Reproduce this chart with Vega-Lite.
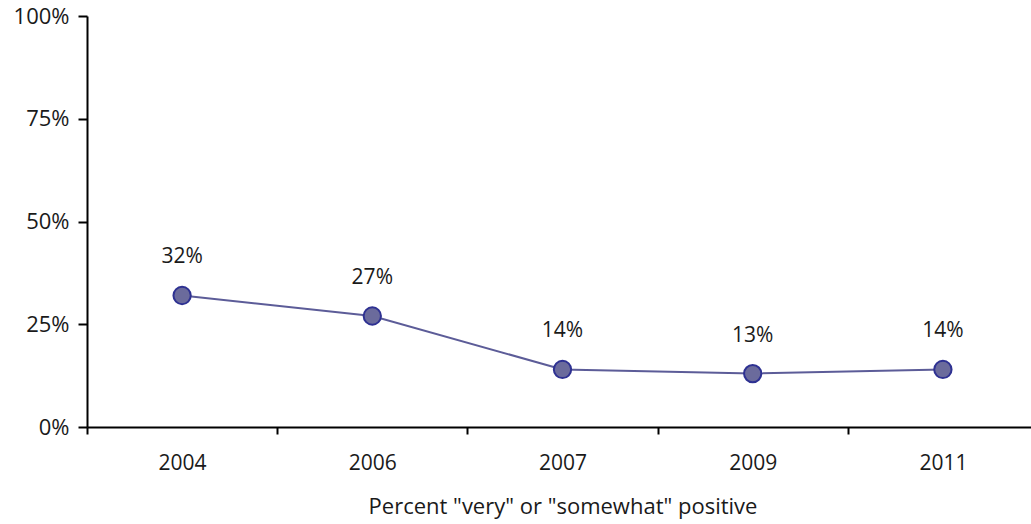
{
  "$schema": "https://vega.github.io/schema/vega-lite/v6.json",
  "autosize": "none",
  "width": 951,
  "height": 411,
  "padding": {"left": 87, "top": 16, "right": 0, "bottom": 97},
  "background": "white",
  "config": {
    "view": {"stroke": null},
    "font": "Open Sans",
    "axis": {"domainColor": "#000000", "domainWidth": 2, "tickColor": "#000000", "tickWidth": 2, "labelColor": "#1a1a1a", "labelFont": "Open Sans", "labelFontSize": 21, "labelFontWeight": 400, "grid": false, "titleFont": "Open Sans", "titleFontWeight": 400, "titleFontSize": 22, "titleColor": "#1a1a1a"}
  },
  "data": {
    "values": [
      {"year": "2004", "pct": 0.32, "label": "32%"},
      {"year": "2006", "pct": 0.27, "label": "27%"},
      {"year": "2007", "pct": 0.14, "label": "14%"},
      {"year": "2009", "pct": 0.13, "label": "13%"},
      {"year": "2011", "pct": 0.14, "label": "14%"}
    ]
  },
  "encoding": {
    "x": {"field": "year", "type": "ordinal", "scale": {"type": "band", "paddingInner": 0, "paddingOuter": 0},
      "axis": {"title": "Percent \"very\" or \"somewhat\" positive", "labelAngle": 0, "tickBand": "extent", "tickSize": 7, "labelPadding": 18, "titlePadding": 23}},
    "y": {"field": "pct", "type": "quantitative", "scale": {"domain": [0, 1]},
      "axis": {"title": null, "values": [0, 0.25, 0.5, 0.75, 1], "format": ".0%", "tickSize": 9, "labelPadding": 9, "labelFontSize": 22}}
  },
  "layer": [
    {"mark": {"type": "line", "color": "#5c5c98", "strokeWidth": 2}},
    {"mark": {"type": "point", "filled": true, "size": 300, "fill": "#6b6b9c", "stroke": "#2e3192", "strokeWidth": 2, "opacity": 1}},
    {"mark": {"type": "text", "dy": -38, "fontSize": 21, "fontWeight": 400, "font": "Open Sans", "color": "#1a1a1a"}, "encoding": {"text": {"field": "label"}}}
  ]
}
